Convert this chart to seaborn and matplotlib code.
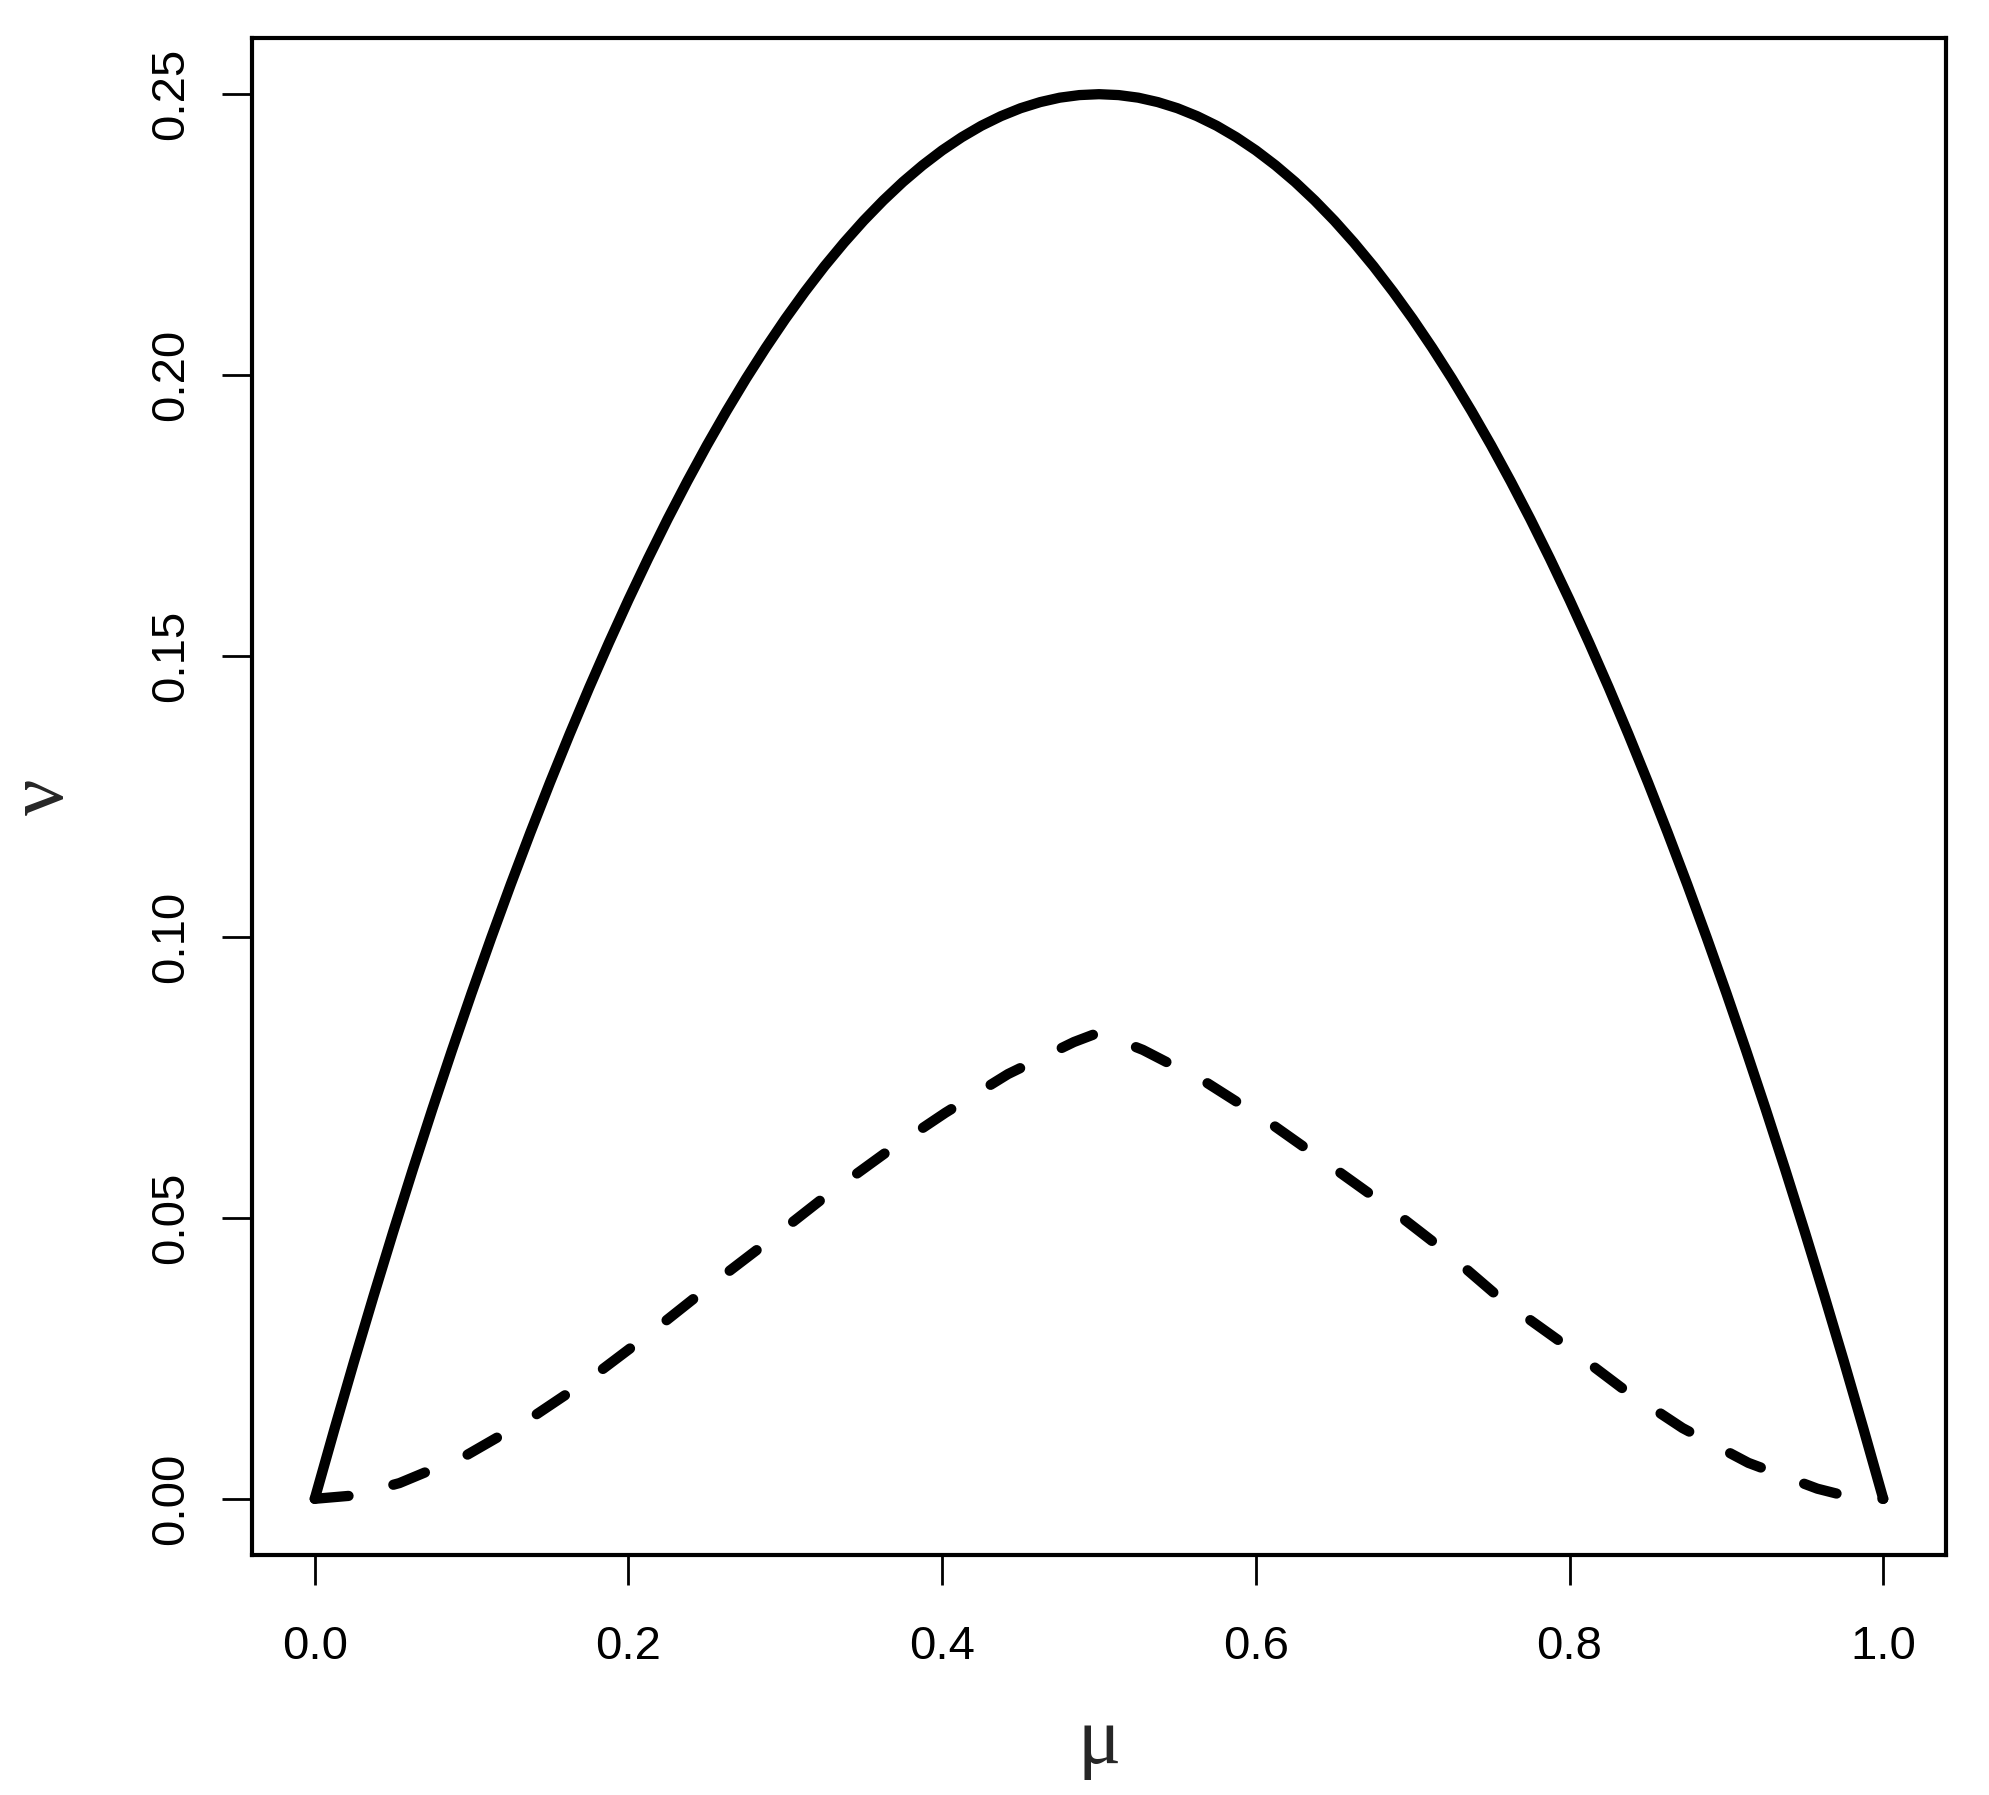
import numpy as np
import pandas as pd
import matplotlib
matplotlib.use("Agg")
import matplotlib.pyplot as plt
import seaborn as sns

# ---------------------------------------------------------------------------
# Data
# ---------------------------------------------------------------------------
mu_solid = [0.0000, 0.0125, 0.0250, 0.0375, 0.0500, 0.0625, 0.0750, 0.0875, 0.1000, 0.1125,
            0.1250, 0.1375, 0.1500, 0.1625, 0.1750, 0.1875, 0.2000, 0.2125, 0.2250, 0.2375,
            0.2500, 0.2625, 0.2750, 0.2875, 0.3000, 0.3125, 0.3250, 0.3375, 0.3500, 0.3625,
            0.3750, 0.3875, 0.4000, 0.4125, 0.4250, 0.4375, 0.4500, 0.4625, 0.4750, 0.4875,
            0.5000, 0.5125, 0.5250, 0.5375, 0.5500, 0.5625, 0.5750, 0.5875, 0.6000, 0.6125,
            0.6250, 0.6375, 0.6500, 0.6625, 0.6750, 0.6875, 0.7000, 0.7125, 0.7250, 0.7375,
            0.7500, 0.7625, 0.7750, 0.7875, 0.8000, 0.8125, 0.8250, 0.8375, 0.8500, 0.8625,
            0.8750, 0.8875, 0.9000, 0.9125, 0.9250, 0.9375, 0.9500, 0.9625, 0.9750, 0.9875,
            1.0000]
nu_solid = [0.00000, 0.01234, 0.02438, 0.03609, 0.04750, 0.05859, 0.06938, 0.07984, 0.09000, 0.09984,
            0.10938, 0.11859, 0.12750, 0.13609, 0.14438, 0.15234, 0.16000, 0.16734, 0.17438, 0.18109,
            0.18750, 0.19359, 0.19938, 0.20484, 0.21000, 0.21484, 0.21938, 0.22359, 0.22750, 0.23109,
            0.23438, 0.23734, 0.24000, 0.24234, 0.24438, 0.24609, 0.24750, 0.24859, 0.24938, 0.24984,
            0.25000, 0.24984, 0.24938, 0.24859, 0.24750, 0.24609, 0.24438, 0.24234, 0.24000, 0.23734,
            0.23438, 0.23109, 0.22750, 0.22359, 0.21938, 0.21484, 0.21000, 0.20484, 0.19938, 0.19359,
            0.18750, 0.18109, 0.17438, 0.16734, 0.16000, 0.15234, 0.14438, 0.13609, 0.12750, 0.11859,
            0.10938, 0.09984, 0.09000, 0.07984, 0.06938, 0.05859, 0.04750, 0.03609, 0.02438, 0.01234,
            0.00000]

mu_dashed = [0.000, 0.025, 0.054, 0.097, 0.138, 0.177, 0.214, 0.251, 0.288, 0.325,
             0.363, 0.402, 0.442, 0.484, 0.500, 0.528, 0.569, 0.609, 0.647, 0.685,
             0.722, 0.757, 0.796, 0.833, 0.872, 0.914, 0.958, 0.975, 1.000]
nu_dashed = [0.0000, 0.0006, 0.0028, 0.0078, 0.0144, 0.0217, 0.0295, 0.0377, 0.0456, 0.0537,
             0.0614, 0.0687, 0.0756, 0.0813, 0.0830, 0.0799, 0.0740, 0.0669, 0.0594, 0.0518,
             0.0438, 0.0354, 0.0276, 0.0198, 0.0126, 0.0064, 0.0018, 0.0006, 0.0000]

x_ticks = [0.0, 0.2, 0.4, 0.6, 0.8, 1.0]
x_tick_labels = ["0.0", "0.2", "0.4", "0.6", "0.8", "1.0"]
y_ticks = [0.00, 0.05, 0.10, 0.15, 0.20, 0.25]
y_tick_labels = ["0.00", "0.05", "0.10", "0.15", "0.20", "0.25"]

df_solid = pd.DataFrame({"mu": mu_solid, "nu": nu_solid})
df_dashed = pd.DataFrame({"mu": mu_dashed, "nu": nu_dashed})

# ---------------------------------------------------------------------------
# Figure
# ---------------------------------------------------------------------------
sns.set_style("ticks")
plt.rcParams["font.family"] = ["Liberation Sans", "DejaVu Sans"]

fig = plt.figure(figsize=(19.90, 17.95), dpi=100)
ax = fig.add_axes([252 / 1990, 1 - 1555 / 1795, (1946 - 252) / 1990, (1555 - 38) / 1795])

LW = 7.4
sns.lineplot(data=df_solid, x="mu", y="nu", ax=ax, color="black", linewidth=LW,
             solid_capstyle="round", solid_joinstyle="round")
sns.lineplot(data=df_dashed, x="mu", y="nu", ax=ax, color="black", linewidth=LW)
dash_line = ax.lines[-1]
dash_line.set_dashes((3.3, 4.5))
dash_line.set_dash_capstyle("round")
dash_line.set_dash_joinstyle("round")

ax.set_xlim(-0.04, 1.04)
ax.set_ylim(-0.01, 0.26)
ax.set_xticks(x_ticks)
ax.set_xticklabels(x_tick_labels)
ax.set_yticks(y_ticks)
ax.set_yticklabels(y_tick_labels, rotation=90, va="center")
ax.tick_params(axis="both", direction="out", length=21.6, width=2.0, color="black",
               labelsize=34, labelcolor="black", bottom=True, left=True)
ax.tick_params(axis="x", pad=29)
ax.tick_params(axis="y", pad=21)
ax.set_xlabel("")
ax.set_ylabel("")

for s in ax.spines.values():
    s.set_visible(True)
    s.set_color("black")
    s.set_linewidth(3.0)

# axis titles in a serif Greek face, as in the R symbol font
fig.text(1099 / 1990, 1 - 1763 / 1795, "μ", ha="center", va="baseline",
         fontsize=58, family=["Liberation Serif", "DejaVu Serif"])
fig.text(63 / 1990, 1 - 797 / 1795, "ν", rotation=90, rotation_mode="anchor",
         ha="center", va="baseline", fontsize=58,
         family=["Liberation Serif", "DejaVu Serif"])

fig.savefig("out.png", dpi=100, facecolor="white")
